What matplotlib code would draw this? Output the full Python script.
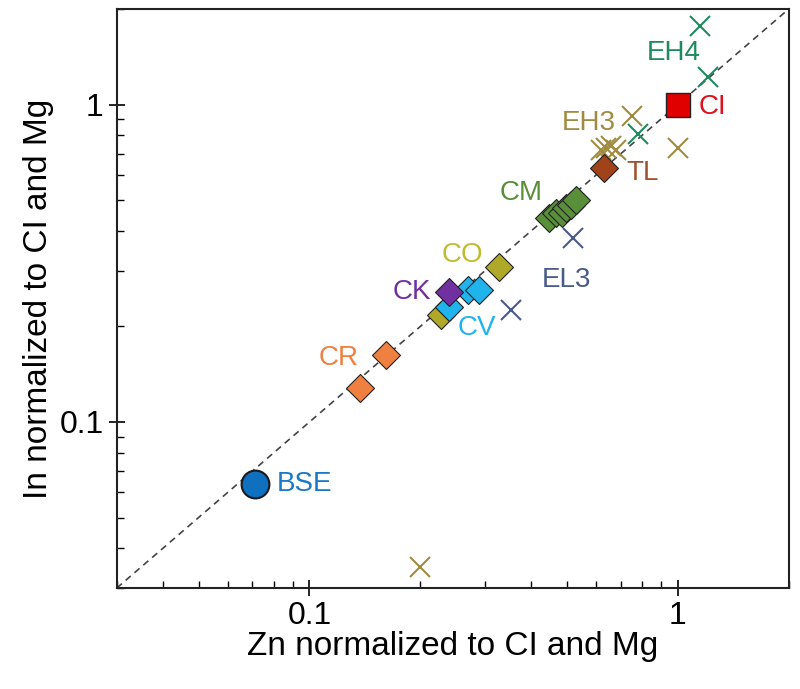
import numpy as np
import matplotlib
matplotlib.use("Agg")
import matplotlib.pyplot as plt
from matplotlib.ticker import LogLocator, NullFormatter, FixedLocator, FixedFormatter

plt.rcParams['font.family'] = ['Liberation Sans', 'DejaVu Sans']

# Chondrite groups and BSE: (Zn, In) normalized to CI and Mg
ci_zn, ci_in = [1.0], [1.0]
tl_zn, tl_in = [0.63], [0.63]
cm_zn = [0.447, 0.467, 0.485, 0.497, 0.513, 0.53]
cm_in = [0.438, 0.454, 0.454, 0.471, 0.481, 0.499]
co_zn = [0.327, 0.227]
co_in = [0.307, 0.217]
ck_zn, ck_in = [0.239], [0.257]
cv_zn = [0.269, 0.289, 0.239]
cv_in = [0.26, 0.26, 0.23]
cr_zn = [0.161, 0.137]
cr_in = [0.162, 0.128]
bse_zn, bse_in = [0.071], [0.064]

eh4_zn = [1.15, 1.21, 0.78]
eh4_in = [1.77, 1.22, 0.81]
eh3_zn = [0.75, 1.0, 0.62, 0.64, 0.66, 0.68, 0.20]
eh3_in = [0.92, 0.73, 0.72, 0.73, 0.74, 0.72, 0.035]
el3_zn = [0.52, 0.352]
el3_in = [0.38, 0.225]

# group labels: text, x, y, colour
labels = ["EH4", "CI", "EH3", "TL", "CM", "EL3", "CO", "CK", "CV", "CR", "BSE"]
label_x = [0.975, 1.24, 0.574, 0.80, 0.375, 0.497, 0.26, 0.19, 0.284, 0.12, 0.097]
label_y = [1.45, 0.98, 0.877, 0.61, 0.525, 0.28, 0.335, 0.257, 0.198, 0.159, 0.064]
label_c = ["#1e8a5e", "#e0101e", "#a08c40", "#a0522d", "#5a8f3a", "#4a5a8a",
           "#c0bc30", "#7030a0", "#20b4ec", "#f08040", "#1a78c8"]

fig = plt.figure(figsize=(8, 6.89), dpi=100)
ax = fig.add_axes([0.146, 0.1466, 0.84, 0.8404])
ax.set_xscale('log')
ax.set_yscale('log')
ax.set_xlim(0.03, 2.0)
ax.set_ylim(0.03, 2.0)

# 1:1 line
ax.plot([0.03, 2.0], [0.03, 2.0], color='#444444', linestyle=(0, (4, 3)), linewidth=1.2, zorder=1)

xkw = dict(marker='x', linestyle='none', markersize=14, markeredgewidth=1.5, zorder=2)
ax.plot(eh3_zn, eh3_in, color='#a08c40', **xkw)
ax.plot(eh4_zn, eh4_in, color='#1e8a5e', **xkw)
ax.plot(el3_zn, el3_in, color='#4a5a8a', **xkw)

dkw = dict(marker='D', linestyle='none', markersize=14, markeredgecolor='#222222',
           markeredgewidth=0.8, zorder=3)
ax.plot(cm_zn, cm_in, color='#5a8f3a', **dkw)
ax.plot(tl_zn, tl_in, color='#a0421a', **dkw)
ax.plot(co_zn, co_in, color='#b0a828', **dkw)
ax.plot(cv_zn, cv_in, color='#20b4ec', **dkw)
ax.plot(ck_zn, ck_in, color='#7030a0', **dkw)
ax.plot(cr_zn, cr_in, color='#f08040', **dkw)
ax.plot(ci_zn, ci_in, marker='s', linestyle='none', markersize=17, color='#e00000',
        markeredgecolor='#222222', markeredgewidth=1.0, zorder=4)
ax.plot(bse_zn, bse_in, marker='o', linestyle='none', markersize=20, color='#1070c0',
        markeredgecolor='#1a1a1a', markeredgewidth=1.5, zorder=4)

for t, x, y, c in zip(labels, label_x, label_y, label_c):
    ax.text(x, y, t, color=c, fontsize=20, ha='center', va='center', zorder=5)

ax.xaxis.set_major_locator(FixedLocator([0.1, 1]))
ax.xaxis.set_major_formatter(FixedFormatter(['0.1', '1']))
ax.yaxis.set_major_locator(FixedLocator([0.1, 1]))
ax.yaxis.set_major_formatter(FixedFormatter(['0.1', '1']))
ax.xaxis.set_minor_locator(LogLocator(base=10, subs=np.arange(2, 10)))
ax.yaxis.set_minor_locator(LogLocator(base=10, subs=np.arange(2, 10)))
ax.xaxis.set_minor_formatter(NullFormatter())
ax.yaxis.set_minor_formatter(NullFormatter())
ax.tick_params(which='major', direction='inout', length=12, width=1.2, labelsize=23)
ax.tick_params(which='minor', direction='in', length=5, width=1.0)
for s in ax.spines.values():
    s.set_linewidth(1.5)
    s.set_color('#222222')

ax.set_xlabel('Zn normalized to CI and Mg', fontsize=24, labelpad=0)
ax.set_ylabel('In normalized to CI and Mg', fontsize=24, labelpad=4)

fig.savefig('out.png', dpi=100)
